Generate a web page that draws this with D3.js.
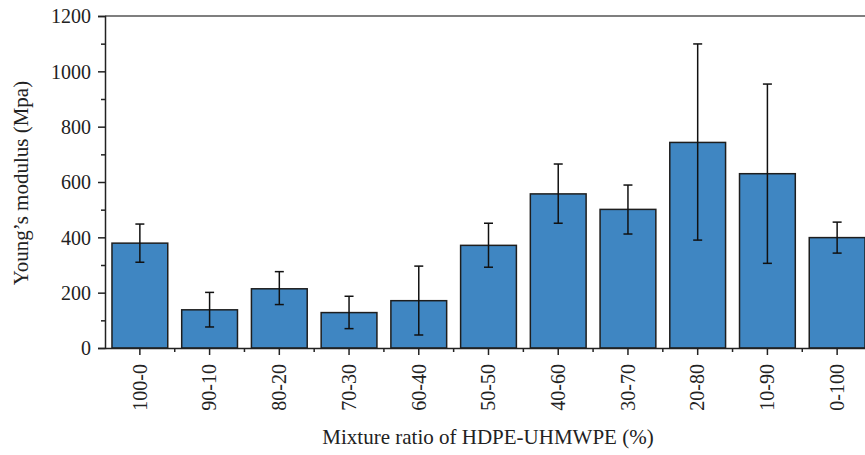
<!DOCTYPE html>
<html>
<head>
<meta charset="utf-8">
<script src="https://cdn.jsdelivr.net/npm/d3@7"></script>
<style>
html,body{margin:0;padding:0;background:#fff;}
svg{display:block;}
text{font-family:"Liberation Serif","DejaVu Serif",serif;fill:#222;}
</style>
</head>
<body>
<svg id="chart" width="865" height="455"></svg>
<script>
const categories = ["100-0","90-10","80-20","70-30","60-40","50-50","40-60","30-70","20-80","10-90","0-100"];
const values     = [379, 138, 214, 128, 171, 371, 557, 501, 743, 630, 399];
const errUpper   = [448, 201, 276, 187, 296, 451, 665, 589, 1099, 954, 455];
const errLower   = [310, 76, 157, 70, 47, 292, 451, 412, 390, 306, 343];
const yTicks     = [0, 200, 400, 600, 800, 1000, 1200];
const yMinorTicks= [100, 300, 500, 700, 900, 1100];

const svg = d3.select("#chart");
const mLeft = 105, mRight = 872, mTop = 16, mBottom = 348;

const x = d3.scaleBand().domain(categories).range([mLeft, mRight]).paddingInner(0.2).paddingOuter(0.1);
const y = d3.scaleLinear().domain([0, 1200]).range([mBottom, mTop]);

// bars
svg.append("g").selectAll("rect").data(categories).join("rect")
  .attr("x", d => x(d))
  .attr("y", (d,i) => y(values[i]))
  .attr("width", x.bandwidth())
  .attr("height", (d,i) => y(0) - y(values[i]))
  .attr("fill", "#3f86c2")
  .attr("stroke", "#1e1e1e")
  .attr("stroke-width", 1.5);

// error bars
const eg = svg.append("g").attr("stroke", "#111").attr("stroke-width", 1.5);
categories.forEach((c, i) => {
  const cx = x(c) + x.bandwidth() / 2;
  eg.append("line").attr("x1", cx).attr("x2", cx).attr("y1", y(errLower[i])).attr("y2", y(errUpper[i]));
  eg.append("line").attr("x1", cx - 4.5).attr("x2", cx + 4.5).attr("y1", y(errUpper[i])).attr("y2", y(errUpper[i]));
  eg.append("line").attr("x1", cx - 4.5).attr("x2", cx + 4.5).attr("y1", y(errLower[i])).attr("y2", y(errLower[i]));
});

// top frame line
svg.append("line").attr("x1", mLeft).attr("x2", mRight).attr("y1", mTop).attr("y2", mTop)
  .attr("stroke", "#555").attr("stroke-width", 1.5);

// y axis
const yAxis = svg.append("g").attr("transform", `translate(${mLeft},0)`)
  .call(d3.axisLeft(y).tickValues(yTicks).tickSize(7).tickPadding(7).tickFormat(d3.format("d")));
yAxis.select(".domain").attr("stroke", "#222").attr("stroke-width", 1.5);
yAxis.selectAll(".tick line").attr("stroke", "#222").attr("stroke-width", 1.5);
yAxis.selectAll("text").style("font-size", "20px").attr("dy", "0.34em");
const yMinor = svg.append("g").attr("transform", `translate(${mLeft},0)`)
  .call(d3.axisLeft(y).tickValues(yMinorTicks).tickSize(4).tickFormat(""));
yMinor.select(".domain").remove();
yMinor.selectAll(".tick line").attr("stroke", "#222").attr("stroke-width", 1.5);

// x axis
const xAxis = svg.append("g").attr("transform", `translate(0,${mBottom})`)
  .call(d3.axisBottom(x).tickSize(7).tickPadding(0).tickSizeOuter(0));
xAxis.select(".domain").attr("stroke", "#222").attr("stroke-width", 1.5);
xAxis.selectAll(".tick line").attr("stroke", "#222").attr("stroke-width", 1.5);
xAxis.selectAll("text")
  .style("font-size", "20px")
  .attr("text-anchor", "end")
  .attr("transform", "rotate(-90)")
  .attr("x", -16).attr("y", 0).attr("dy", "0.34em");
// minor x ticks at band boundaries
const boundaries = categories.slice(1).map(c => x(c) - x.step() * x.paddingInner() / 2);
svg.append("g").selectAll("line").data(boundaries).join("line")
  .attr("x1", d => d).attr("x2", d => d)
  .attr("y1", mBottom).attr("y2", mBottom + 4)
  .attr("stroke", "#222").attr("stroke-width", 1.5);

// axis titles
svg.append("text").attr("x", 488).attr("y", 444)
  .attr("text-anchor", "middle").style("font-size", "21px")
  .text("Mixture ratio of HDPE-UHMWPE (%)");
svg.append("text").attr("transform", `translate(28,183) rotate(-90)`)
  .attr("text-anchor", "middle").style("font-size", "21px")
  .text("Young’s modulus (Mpa)");
</script>
</body>
</html>
